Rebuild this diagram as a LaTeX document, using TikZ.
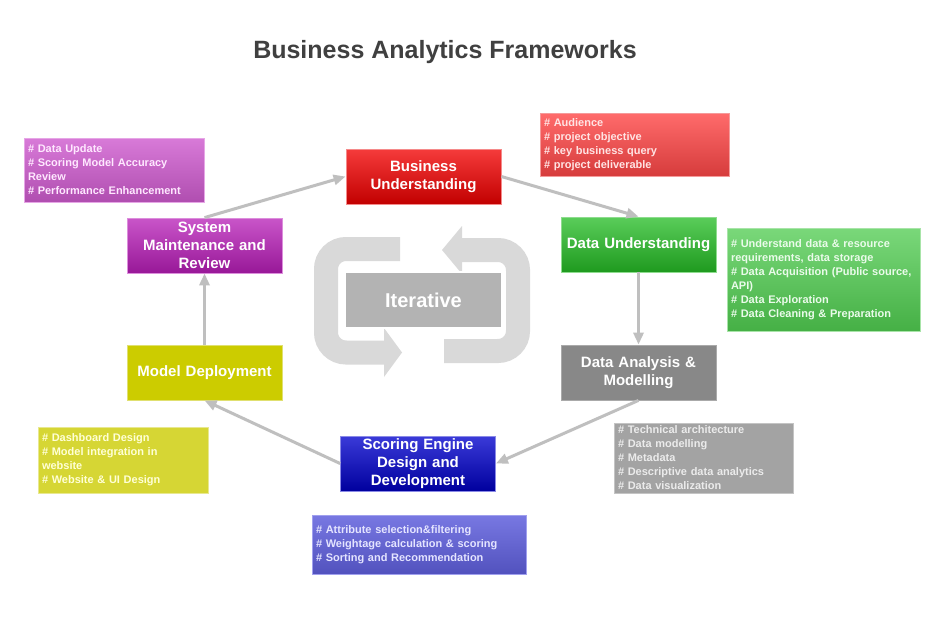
\documentclass[tikz,border=0pt]{standalone}
\usepackage{fontspec}
\setmainfont{Liberation Sans}
\usetikzlibrary{arrows.meta}

\definecolor{arrowgray}{HTML}{BFBFBF}
\definecolor{loopgray}{HTML}{D9D9D9}
\definecolor{itergray}{HTML}{B3B3B3}
\definecolor{titlegray}{HTML}{404040}
\definecolor{buTop}{HTML}{F53B3B}
\definecolor{buBot}{HTML}{C20000}
\definecolor{buLine}{HTML}{F58A8A}
\definecolor{rnTop}{HTML}{FF6B6B}
\definecolor{rnBot}{HTML}{D63C3C}
\definecolor{rnLine}{HTML}{F59A9A}
\definecolor{rnText}{HTML}{FFE4E4}
\definecolor{duTop}{HTML}{5ACD5A}
\definecolor{duBot}{HTML}{1F9A1F}
\definecolor{duLine}{HTML}{8EDC8E}
\definecolor{gnTop}{HTML}{7AD87A}
\definecolor{gnBot}{HTML}{45B045}
\definecolor{gnLine}{HTML}{A8E4A8}
\definecolor{gnText}{HTML}{EAFBEA}
\definecolor{daFill}{HTML}{888888}
\definecolor{daLine}{HTML}{AAAAAA}
\definecolor{ynFill}{HTML}{A3A3A3}
\definecolor{ynLine}{HTML}{C4C4C4}
\definecolor{ynText}{HTML}{EBEBEB}
\definecolor{seTop}{HTML}{3A3AD8}
\definecolor{seBot}{HTML}{00009E}
\definecolor{seLine}{HTML}{8A8AE6}
\definecolor{bnTop}{HTML}{7878E2}
\definecolor{bnBot}{HTML}{5252BE}
\definecolor{bnLine}{HTML}{A0A0EE}
\definecolor{bnText}{HTML}{E4E4FF}
\definecolor{mdFill}{HTML}{CCCC00}
\definecolor{mdLine}{HTML}{E0E070}
\definecolor{knFill}{HTML}{D6D634}
\definecolor{knLine}{HTML}{E8E890}
\definecolor{knText}{HTML}{FFFFD6}
\definecolor{smTop}{HTML}{C955C9}
\definecolor{smBot}{HTML}{981898}
\definecolor{smLine}{HTML}{DC8EDC}
\definecolor{pnTop}{HTML}{D87AD8}
\definecolor{pnBot}{HTML}{B04EB0}
\definecolor{pnLine}{HTML}{E6A6E6}
\definecolor{pnText}{HTML}{FFE8FF}

\tikzset{
  stage/.style={draw, line width=0.8pt, minimum width=155pt, minimum height=55pt,
    text width=150pt, align=center, inner sep=0pt, text=white,
    font=\fontsize{15}{18}\selectfont\bfseries},
  note/.style={draw, line width=0.8pt, text width=#1, align=left,
    inner xsep=4pt, inner ysep=0pt, font=\fontsize{11}{14}\selectfont\bfseries},
  flow/.style={draw=arrowgray, line width=3pt, -{Triangle[length=12pt,width=10pt]}},
  loopband/.style={draw=loopgray, line width=24pt, rounded corners=20pt},
}

\begin{document}
\begin{tikzpicture}[x=1pt,y=1pt,yscale=-1,xscale=1]
\fill[white] (0,0) rectangle (926,616);
\useasboundingbox (0,0) rectangle (926,616);

% Text Node
\node[text=titlegray, font=\fontsize{25}{30}\selectfont\bfseries] (title) at (445,52) {Business Analytics Frameworks};

%Shape: Loop arrows
\draw[loopband] (400,249) -- (326,249) -- (326,352.5) -- (386,352.5);
\fill[loopgray] (384,328) -- (402,352.5) -- (384,377) -- cycle;
\draw[loopband] (444,351) -- (518,351) -- (518,250) -- (460,250);
\fill[loopgray] (462,226) -- (442,250) -- (462,274) -- cycle;

%Shape: Rectangle
\node[draw=white, line width=2pt, fill=itergray, minimum width=157pt, minimum height=56pt,
  text=white, font=\fontsize{20}{24}\selectfont\bfseries] (iter) at (423.5,300) {Iterative};

%Shape: Stages
\node[stage, draw=buLine, top color=buTop, bottom color=buBot] (bu) at (423.5,176.5) {Business\\Understanding};
\node[stage, draw=duLine, top color=duTop, bottom color=duBot] (du) at (638.5,244.5) {Data Understanding};
\node[stage, draw=daLine, fill=daFill] (da) at (638.5,372.5) {Data Analysis \&\\Modelling};
\node[stage, draw=seLine, top color=seTop, bottom color=seBot] (se) at (418,463.5) {Scoring Engine\\Design and\\Development};
\node[stage, draw=mdLine, fill=mdFill] (md) at (204.5,372.5) {Model Deployment};
\node[stage, draw=smLine, top color=smTop, bottom color=smBot] (sm) at (204.5,245.5) {System\\Maintenance and\\Review};

%Shape: Notes
\node[note=181pt, draw=rnLine, top color=rnTop, bottom color=rnBot, text=rnText, minimum height=63pt] (buNote) at (634.5,144.5)
  {\# Audience\\\# project objective\\\# key business query\\\# project deliverable};
\node[note=185pt, draw=gnLine, top color=gnTop, bottom color=gnBot, text=gnText, minimum height=103pt] (duNote) at (823.5,279.5)
  {\# Understand data \& resource\\requirements, data storage\\\# Data Acquisition (Public source,\\API)\\\# Data Exploration\\\# Data Cleaning \& Preparation};
\node[note=171pt, draw=ynLine, fill=ynFill, text=ynText, minimum height=70pt] (daNote) at (703.5,458)
  {\# Technical architecture\\\# Data modelling\\\# Metadata\\\# Descriptive data analytics\\\# Data visualization};
\node[note=206pt, draw=bnLine, top color=bnTop, bottom color=bnBot, text=bnText, minimum height=59pt] (seNote) at (419,544.5)
  {\# Attribute selection\&filtering\\\# Weightage calculation \& scoring\\\# Sorting and Recommendation};
\node[note=162pt, draw=knLine, fill=knFill, text=knText, minimum height=66pt] (mdNote) at (123,460)
  {\# Dashboard Design\\\# Model integration in\\website\\\# Website \& UI Design};
\node[note=172pt, draw=pnLine, top color=pnTop, bottom color=pnBot, text=pnText, minimum height=64pt] (smNote) at (114,170)
  {\# Data Update\\\# Scoring Model Accuracy\\Review\\\# Performance Enhancement};

%Straight Lines
\draw[flow] (sm.north) -- (bu.west);
\draw[flow] (bu.east) -- (du.north);
\draw[flow] (du.south) -- (da.north);
\draw[flow] (da.south) -- (se.east);
\draw[flow] (se.west) -- (md.south);
\draw[flow] (md.north) -- (sm.south);
\end{tikzpicture}
\end{document}
